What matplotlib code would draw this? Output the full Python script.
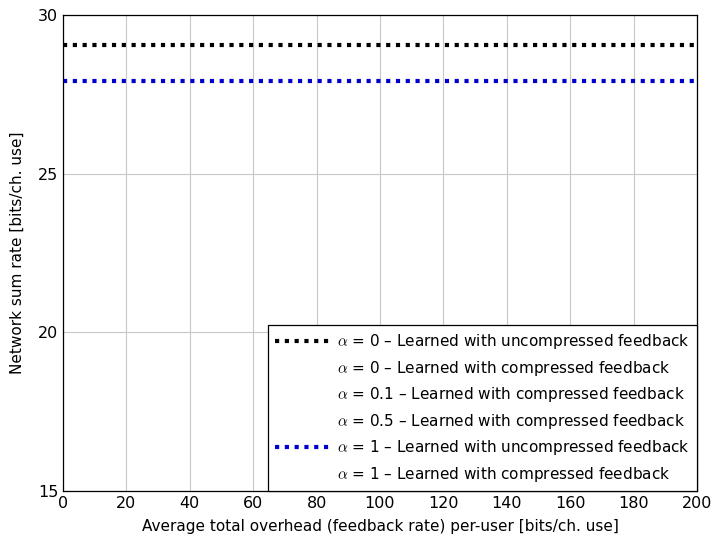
import matplotlib.pyplot as plt
import numpy as np

plt.rcParams['font.family'] = ['DejaVu Sans']
plt.rcParams['mathtext.fontset'] = 'cm'

# data
x_range = [0, 200]
uncompressed_alpha0 = [29.05, 29.05]
uncompressed_alpha1 = [27.93, 27.93]
labels = [
    r"$\alpha$ = 0 – Learned with uncompressed feedback",
    r"$\alpha$ = 0 – Learned with compressed feedback",
    r"$\alpha$ = 0.1 – Learned with compressed feedback",
    r"$\alpha$ = 0.5 – Learned with compressed feedback",
    r"$\alpha$ = 1 – Learned with uncompressed feedback",
    r"$\alpha$ = 1 – Learned with compressed feedback",
]
xticks = np.arange(0, 201, 20)
yticks = [15, 20, 25, 30]

fig = plt.figure(figsize=(7.12, 5.39), dpi=100)
ax = fig.add_axes([63 / 712, 48 / 539, 634 / 712, 476 / 539])

dotted = (0, (1, 1.35))
ax.plot(x_range, uncompressed_alpha0, color='black', lw=3, ls=dotted, label=labels[0])
ax.plot([], [], color='none', label=labels[1])
ax.plot([], [], color='none', label=labels[2])
ax.plot([], [], color='none', label=labels[3])
ax.plot(x_range, uncompressed_alpha1, color='#0000cc', lw=3, ls=dotted, label=labels[4])
ax.plot([], [], color='none', label=labels[5])

ax.set_xlim(0, 200)
ax.set_ylim(15, 30)
ax.set_xticks(xticks)
ax.set_yticks(yticks)
ax.grid(True, color='#c8c8c8', lw=0.8)
ax.tick_params(labelsize=11.5, direction='in', length=0)
for s in ax.spines.values():
    s.set_linewidth(0.9)

ax.set_xlabel("Average total overhead (feedback rate) per-user [bits/ch. use]", fontsize=11, labelpad=6)
ax.set_ylabel("Network sum rate [bits/ch. use]", fontsize=11, labelpad=9)

leg = ax.legend(loc='lower right', fontsize=11, fancybox=False, framealpha=1,
                edgecolor='black', borderaxespad=0, handlelength=3.6,
                handletextpad=0.5, labelspacing=0.5, borderpad=0.45)
leg.get_frame().set_linewidth(0.9)

fig.savefig("out.png", dpi=100)
